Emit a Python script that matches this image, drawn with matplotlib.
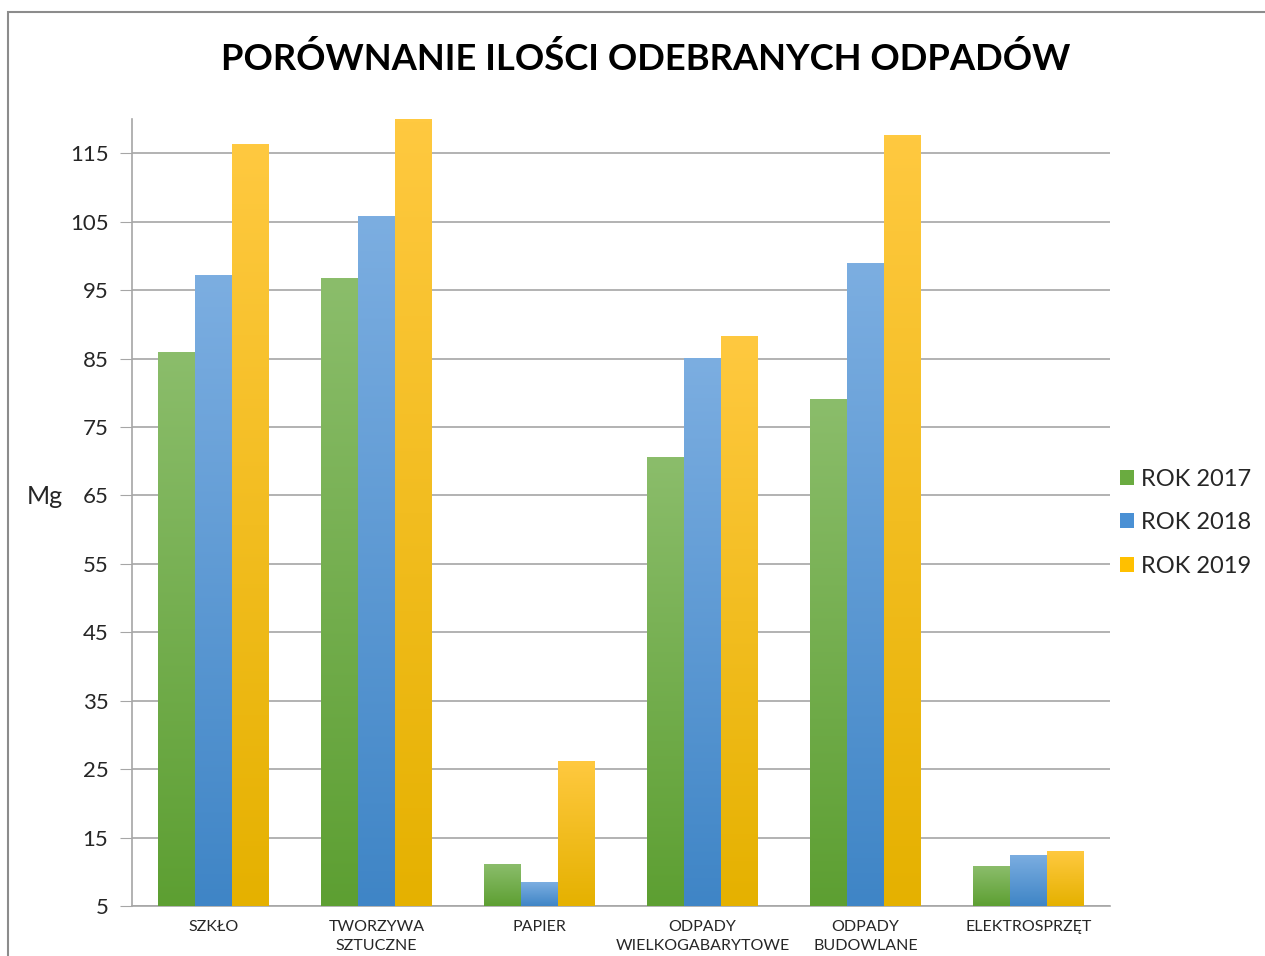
import numpy as np
import matplotlib.pyplot as plt
from matplotlib.patches import Rectangle
from matplotlib.colors import LinearSegmentedColormap

categories = ["SZKŁO", "TWORZYWA\nSZTUCZNE", "PAPIER", "ODPADY\nWIELKOGABARYTOWE",
              "ODPADY\nBUDOWLANE", "ELEKTROSPRZĘT"]
series_names = ["ROK 2017", "ROK 2018", "ROK 2019"]
rok_2017 = [85.9, 96.7, 11.1, 70.6, 79.1, 10.8]
rok_2018 = [97.2, 105.8, 8.5, 85.1, 98.9, 12.5]
rok_2019 = [116.3, 121.0, 26.2, 88.3, 117.6, 13.0]
yticks = [5, 15, 25, 35, 45, 55, 65, 75, 85, 95, 105, 115]

# (top colour, bottom colour) for the gradient fill
gradients = [("#8bbd6b", "#5d9f32"), ("#7caee1", "#3f85c6"), ("#ffc940", "#e5b100")]
legend_colors = ["#6aab40", "#4a90d4", "#ffc000"]

plt.rcParams['font.family'] = ['Lato', 'DejaVu Sans']

fig = plt.figure(figsize=(12.65, 9.56), dpi=100)
ax = fig.add_axes([132/1265, 1 - 906/956, (1110-132)/1265, (906-119)/956])

# outer frame
fig.patches.append(Rectangle((8/1265, -0.1), 1.2, 1 - 12/956 + 0.1, transform=fig.transFigure,
                             fill=False, edgecolor="#8c8c8c", linewidth=1.5))

ymin, ymax = 5, 120
x = np.arange(len(categories))
w = 0.225
for i, vals in enumerate([rok_2017, rok_2018, rok_2019]):
    bars = ax.bar(x + (i - 1) * w, np.array(vals) - ymin, w, bottom=ymin,
                  color=legend_colors[i], label=series_names[i], zorder=3)
    cmap = LinearSegmentedColormap.from_list("g%d" % i, [gradients[i][1], gradients[i][0]])
    for b in bars:
        x0, y0 = b.get_x(), b.get_y()
        top = min(y0 + b.get_height(), ymax)
        im = ax.imshow(np.linspace(0, 1, 256).reshape(-1, 1), cmap=cmap, origin="lower",
                       extent=[x0, x0 + b.get_width(), y0, top],
                       aspect="auto", zorder=4)
        im.set_clip_path(b)

ax.set_xlim(-0.5, len(categories) - 0.5)
ax.set_ylim(ymin, ymax)
ax.set_yticks(yticks)
ax.set_xticks(x)
ax.set_xticklabels(categories, fontsize=11.5, linespacing=1.45)
ax.tick_params(axis='y', labelsize=16, length=9, color="#a6a6a6", pad=8, labelcolor="#262626")
ax.tick_params(axis='x', length=0, pad=10, labelcolor="#262626")
ax.grid(axis='y', color="#a6a6a6", linewidth=1.2, zorder=0)
for s in ["top", "right"]:
    ax.spines[s].set_visible(False)
for s in ["left", "bottom"]:
    ax.spines[s].set_color("#a6a6a6")
    ax.spines[s].set_linewidth(1.2)

fig.text(45/1265, 1 - 497/956, "Mg", fontsize=18, ha="center", va="center", color="#262626")
fig.text(646/1265, 1 - 59/956, "PORÓWNANIE ILOŚCI ODEBRANYCH ODPADÓW", fontsize=26.2,
         fontweight="bold", ha="center", va="center", color="black")

leg = ax.legend(loc="center left", bbox_to_anchor=(0.993, 0.487), frameon=False, fontsize=17,
                handlelength=0.6, handleheight=0.6, handletextpad=0.3, labelspacing=0.95,
                borderaxespad=0.3)
for t in leg.get_texts():
    t.set_color("#262626")

fig.savefig("out.png", dpi=100)
